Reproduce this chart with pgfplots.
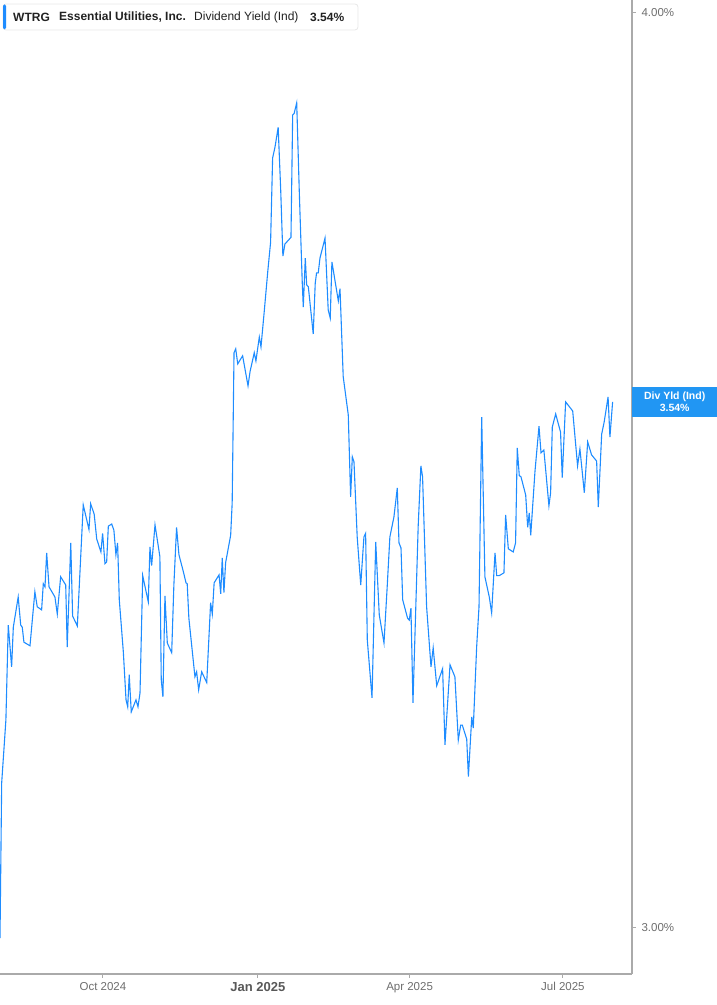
\documentclass[border=0pt]{standalone}
\usepackage{pgfplots}
\pgfplotsset{compat=1.18}
\usepackage{fontspec}
\setmainfont{Liberation Sans}
\definecolor{lineblue}{RGB}{30,140,255}
\definecolor{axisgray}{RGB}{170,170,170}
\definecolor{labgray}{RGB}{110,110,110}
\definecolor{boxblue}{RGB}{33,150,243}
\definecolor{titletext}{RGB}{34,34,34}

\begin{document}
\begin{tikzpicture}
\path[use as bounding box] (0pt,0pt) rectangle (717pt,1005pt);
% x = days from 1 Jan 2025, y = dividend yield in %
\begin{axis}[
    at={(0pt,31pt)}, anchor=south west,
    width=632pt, height=974pt, scale only axis,
    ymode=log,
    xmin=-153.1, xmax=222, ymin=2.957, ymax=4.0164,
    axis x line*=bottom, axis y line*=right,
    axis line style={axisgray, line width=1.3pt, -},
    xtick={-92,0,90,181},
    xticklabels={Oct 2024, {\fontsize{13}{13}\selectfont\bfseries\color{labgray!80!black}Jan 2025}, Apr 2025, Jul 2025},
    ytick={3,4}, yticklabels={3.00\%,4.00\%},
    yminorticks=false,
    tick align=outside,
    major tick length=4pt,
    tick style={axisgray, line width=1pt},
    xticklabel style={font=\fontsize{11.5}{12}\selectfont, text=labgray, yshift=-1pt},
    yticklabel style={font=\fontsize{11.5}{12}\selectfont, text=labgray, anchor=west, xshift=2pt},
    clip mode=individual,
]
\addplot[lineblue, line width=1.1pt] coordinates {
(-153.1,2.9906) (-152.1,3.1403) (-149.6,3.2029) (-148.2,3.2999) (-146.2,3.2569)
(-145.2,3.2978) (-142.3,3.3293) (-140.8,3.2999) (-139.9,3.2978) (-138.9,3.2824)
(-137.3,3.2804) (-135.3,3.2783) (-132.4,3.3346) (-131.0,3.3188) (-128.4,3.3157)
(-127.4,3.3430) (-126.4,3.3399) (-125.4,3.3757) (-124.0,3.3399) (-120.5,3.3293)
(-119.1,3.3114) (-117.1,3.3503) (-114.1,3.3420) (-113.2,3.2773) (-111.1,3.3862)
(-110.0,3.3093) (-107.2,3.2988) (-103.7,3.4270) (-100.3,3.4009) (-99.3,3.4281)
(-97.2,3.4172) (-95.7,3.3904) (-93.2,3.3767) (-92.2,3.3967) (-90.8,3.3641)
(-89.8,3.3662) (-88.8,3.4042) (-86.8,3.4063) (-85.5,3.3999) (-84.3,3.3736)
(-83.3,3.3862) (-82.3,3.3262) (-79.9,3.2722) (-78.3,3.2233) (-77.3,3.2161)
(-76.4,3.2487) (-75.2,3.2110) (-72.4,3.2233) (-71.2,3.2161) (-70.0,3.2304)
(-68.4,3.3515) (-65.1,3.3241) (-64.1,3.3820) (-63.1,3.3620) (-61.1,3.4053)
(-58.2,3.3715) (-57.4,3.2437) (-56.4,3.2263) (-55.2,3.3304) (-53.8,3.2814)
(-51.2,3.2712) (-49.9,3.3420) (-48.3,3.4031) (-46.9,3.3736) (-44.3,3.3557)
(-42.7,3.3441) (-42.0,3.3430) (-41.0,3.3072) (-37.4,3.2467) (-36.4,3.2518)
(-35.2,3.2335) (-33.4,3.2518) (-30.4,3.2406) (-28.1,3.3230) (-27.1,3.3114)
(-26.0,3.3441) (-23.1,3.3525) (-22.1,3.3325) (-21.2,3.3704) (-20.2,3.3336)
(-19.2,3.3651) (-16.2,3.3946) (-15.3,3.4292) (-14.2,3.5948) (-13.2,3.5993)
(-12.0,3.5824) (-9.1,3.5914) (-5.9,3.5578) (-4.7,3.5735) (-2.2,3.5948)
(-1.2,3.5858) (0.8,3.6127) (1.8,3.6015) (3.7,3.6413) (5.8,3.6876)
(7.5,3.7223) (8.7,3.8221) (10.1,3.8352) (12.0,3.8591) (13.5,3.7839)
(14.8,3.7061) (16.0,3.7200) (19.6,3.7281) (20.6,3.8739) (21.5,3.8764)
(23.0,3.8887) (24.5,3.7839) (26.3,3.6749) (26.9,3.6471) (28.1,3.7038)
(28.9,3.6726) (29.9,3.6702) (32.8,3.6161) (34.0,3.6749) (34.8,3.6864)
(35.8,3.6864) (36.8,3.7038) (39.8,3.7269) (41.7,3.6436) (42.9,3.6344)
(43.9,3.6992) (47.7,3.6540) (48.7,3.6680) (50.6,3.5679) (53.6,3.5253)
(55.0,3.4357) (56.0,3.4792) (57.0,3.4737) (58.9,3.3925) (61.0,3.3420)
(62.9,3.3925) (63.9,3.3967) (64.9,3.2845) (67.7,3.2253) (69.9,3.3872)
(72.0,3.3104) (74.8,3.2814) (76.7,3.3399) (78.3,3.3925) (80.7,3.4140)
(82.7,3.4455) (83.7,3.3862) (84.9,3.3810) (85.9,3.3262) (88.8,3.3072)
(89.8,3.3051) (90.8,3.3177) (92.0,3.2202) (95.1,3.4042) (96.7,3.4693)
(97.7,3.4574) (100.1,3.3188) (102.7,3.2569) (104.0,3.2763) (106.1,3.2375)
(109.6,3.2549) (111.0,3.1779) (114.0,3.2590) (116.9,3.2467) (118.9,3.1828)
(120.3,3.1978) (121.3,3.1978) (123.9,3.1838) (124.9,3.1463) (126.9,3.2059)
(127.8,3.1947) (129.8,3.2773) (131.2,3.3188) (132.8,3.5230) (134.7,3.3503)
(137.3,3.3293) (138.7,3.3125) (140.7,3.3757) (141.7,3.3515) (143.2,3.3515)
(146.0,3.3546) (147.0,3.4161) (148.6,3.3799) (151.5,3.3767) (152.9,3.3862)
(153.9,3.4890) (155.1,3.4585) (156.1,3.4574) (158.9,3.4379) (160.1,3.4031)
(161.0,3.4183) (161.9,3.3946) (164.4,3.4628) (166.8,3.5129) (168.0,3.4835)
(169.7,3.4868) (172.7,3.4259) (173.7,3.4401) (174.7,3.5118) (176.7,3.5264)
(179.6,3.5063) (180.6,3.4564) (182.6,3.5398) (186.8,3.5298) (189.7,3.4693)
(191.1,3.4878) (193.7,3.4401) (195.7,3.4955) (198.0,3.4813) (201.0,3.4748)
(202.0,3.4248) (204.0,3.5041) (205.5,3.5174) (207.8,3.5455) (208.9,3.5008)
(210.5,3.5400)
};
\coordinate (lab) at (axis cs:222,3.54);
\end{axis}
% value label on the right edge
\node[fill=boxblue, text=white, font=\bfseries\fontsize{10.5}{11.5}\selectfont,
      align=center, minimum width=85pt, minimum height=30pt, inner sep=0pt,
      anchor=west] at (lab) {Div Yld (Ind)\\3.54\%};
% title box
\draw[draw=gray!18, fill=white, line width=0.8pt, rounded corners=3pt]
    (3pt,975pt) rectangle (358pt,1001pt);
\fill[lineblue, rounded corners=1.5pt] (3pt,975.5pt) rectangle (6pt,1000.5pt);
\begin{scope}[every node/.style={anchor=west, inner sep=0pt, text=titletext,
    font=\fontsize{12}{12}\selectfont}]
\node at (13pt,988pt) {\bfseries WTRG};
\node at (59pt,988pt) {\bfseries Essential Utilities, Inc.};
\node at (194pt,988pt) {Dividend Yield (Ind)};
\node at (310pt,988pt) {\bfseries 3.54\%};
\end{scope}
\end{tikzpicture}
\end{document}
